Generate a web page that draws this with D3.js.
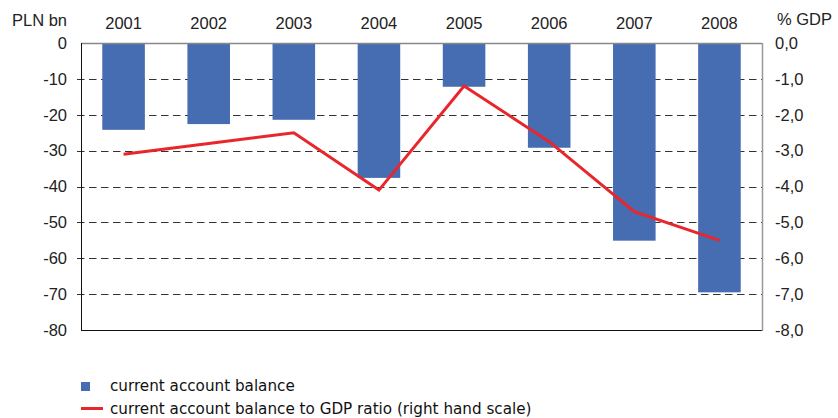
<!DOCTYPE html>
<html>
<head>
<meta charset="utf-8">
<script src="https://cdnjs.cloudflare.com/ajax/libs/d3/7.8.5/d3.min.js"></script>
<style>
  body { margin: 0; background: #fff; }
  svg { display: block; }
</style>
</head>
<body>
<svg id="chart"></svg>
<script>
// Chart data
var years = ['2001', '2002', '2003', '2004', '2005', '2006', '2007', '2008'];
var balance = [-24.2, -22.6, -21.4, -37.6, -12.2, -29.2, -55.1, -69.5];   // PLN bn
var balanceGdp = [-3.1, -2.8, -2.5, -4.1, -1.2, -2.75, -4.7, -5.5];      // % GDP
var leftTicks = [0, -10, -20, -30, -40, -50, -60, -70, -80];
var rightTicks = [0, -1, -2, -3, -4, -5, -6, -7, -8];
var legendLabels = ['current account balance', 'current account balance to GDP ratio (right hand scale)'];

var width = 838,
    height = 418,
    margin = { top: 43, right: 76, bottom: 88, left: 81 };

var svg = d3.select('#chart')
    .attr('width', width)
    .attr('height', height);

var x = d3.scaleBand()
    .domain(years)
    .range([margin.left, width - margin.right])
    .paddingInner(0.5)
    .paddingOuter(0.25);

var yLeft = d3.scaleLinear()
    .domain([0, -80])
    .range([margin.top, height - margin.bottom]);

var yRight = d3.scaleLinear()
    .domain([0, -8])
    .range([margin.top, height - margin.bottom]);

var font = '"Liberation Sans", Arial, sans-serif';

// Dashed gridlines
svg.append('g')
    .selectAll('line')
    .data(leftTicks.filter(function (d) { return d !== 0 && d !== -80; }))
    .enter().append('line')
    .attr('x1', margin.left - 4)
    .attr('x2', width - margin.right)
    .attr('y1', function (d) { return Math.round(yLeft(d)) + 0.5; })
    .attr('y2', function (d) { return Math.round(yLeft(d)) + 0.5; })
    .attr('stroke', '#333')
    .attr('stroke-width', 1.2)
    .attr('stroke-dasharray', '7.5,4.5');

// Bars
svg.append('g')
    .selectAll('rect')
    .data(balance)
    .enter().append('rect')
    .attr('x', function (d, i) { return x(years[i]); })
    .attr('y', yLeft(0))
    .attr('width', x.bandwidth())
    .attr('height', function (d) { return yLeft(d) - yLeft(0); })
    .attr('fill', '#466cb2');

// Frame lines
svg.append('line')   // zero line
    .attr('x1', margin.left).attr('x2', width - margin.right)
    .attr('y1', yLeft(0) + 0.5).attr('y2', yLeft(0) + 0.5)
    .attr('stroke', '#888').attr('stroke-width', 1.5);
svg.append('line')   // bottom
    .attr('x1', margin.left).attr('x2', width - margin.right)
    .attr('y1', yLeft(-80) + 0.5).attr('y2', yLeft(-80) + 0.5)
    .attr('stroke', '#111');
svg.append('line')   // left axis
    .attr('x1', margin.left + 0.5).attr('x2', margin.left + 0.5)
    .attr('y1', yLeft(0)).attr('y2', yLeft(-80))
    .attr('stroke', '#111');
svg.append('line')   // right axis
    .attr('x1', width - margin.right + 0.5).attr('x2', width - margin.right + 0.5)
    .attr('y1', yLeft(0)).attr('y2', yLeft(-80) + 1)
    .attr('stroke', '#999').attr('stroke-width', 1.5);

// Ratio line
var line = d3.line()
    .x(function (d, i) { return x(years[i]) + x.bandwidth() / 2; })
    .y(function (d) { return yRight(d); });

svg.append('path')
    .datum(balanceGdp)
    .attr('d', line)
    .attr('fill', 'none')
    .attr('stroke', '#e8262b')
    .attr('stroke-width', 3);

// Left tick labels
svg.append('g')
    .selectAll('text')
    .data(leftTicks)
    .enter().append('text')
    .attr('x', 67)
    .attr('y', function (d) { return yLeft(d); })
    .attr('dy', '0.35em')
    .attr('text-anchor', 'end')
    .style('font', '16.5px ' + font)
    .style('fill', '#222')
    .text(function (d) { return d; });

// Right tick labels
svg.append('g')
    .selectAll('text')
    .data(rightTicks)
    .enter().append('text')
    .attr('x', 775)
    .attr('y', function (d) { return yRight(d); })
    .attr('dy', '0.35em')
    .style('font', '16.5px ' + font)
    .style('fill', '#222')
    .text(function (d) { return d3.format('.1f')(d).replace('.', ',').replace('−', '-'); });

// Year labels on top
svg.append('g')
    .selectAll('text')
    .data(years)
    .enter().append('text')
    .attr('x', function (d) { return x(d) + x.bandwidth() / 2; })
    .attr('y', 23)
    .attr('dy', '0.35em')
    .attr('text-anchor', 'middle')
    .style('font', '16.5px ' + font)
    .style('fill', '#222')
    .text(function (d) { return d; });

svg.append('text')
    .attr('x', 12).attr('y', 20).attr('dy', '0.35em')
    .style('font', '16.5px ' + font).style('fill', '#222')
    .text('PLN bn');

svg.append('text')
    .attr('x', 777).attr('y', 19).attr('dy', '0.35em')
    .style('font', '16.5px ' + font).style('fill', '#222')
    .text('% GDP');

// Legend
var legend = svg.append('g');
legend.append('rect')
    .attr('x', 81).attr('y', 382)
    .attr('width', 9).attr('height', 9)
    .attr('fill', '#466cb2');
legend.append('line')
    .attr('x1', 81).attr('x2', 103)
    .attr('y1', 408.5).attr('y2', 408.5)
    .attr('stroke', '#e8262b').attr('stroke-width', 3);
legend.selectAll('text')
    .data(legendLabels)
    .enter().append('text')
    .attr('x', 110)
    .attr('y', function (d, i) { return 386 + i * 23; })
    .attr('dy', '0.35em')
    .style('font', '15.2px "DejaVu Sans", Verdana, sans-serif')
    .style('fill', '#111')
    .text(function (d) { return d; });
</script>
</body>
</html>
